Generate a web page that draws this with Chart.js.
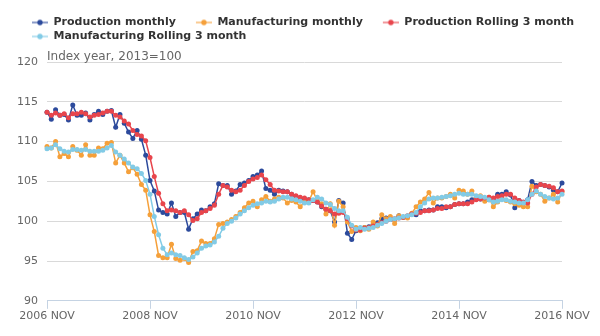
<!DOCTYPE html>
<html lang="en">
<head>
    <meta charset="UTF-8">
    <title>Production and Manufacturing Index</title>
    <script src="https://cdn.jsdelivr.net/npm/chart.js"></script>
    <style>
        body {
            margin: 0;
            background: #fff;
        }
    </style>
</head>
<body>
    <canvas id="indexChart" width="600" height="336"></canvas>

    <script>
        // month labels, 2006 NOV .. 2016 NOV
        const monthNames = ['JAN', 'FEB', 'MAR', 'APR', 'MAY', 'JUN', 'JUL', 'AUG', 'SEP', 'OCT', 'NOV', 'DEC'];
        const startYear = 2006, startMonth = 10, monthCount = 121;
        const categories = [];
        for (let i = 0; i < monthCount; i++) {
            let m = startMonth + i;
            categories.push((startYear + Math.floor(m / 12)) + ' ' + monthNames[m % 12]);
        }
        const tickLabels = ['2006 NOV', '2008 NOV', '2010 NOV', '2012 NOV', '2014 NOV', '2016 NOV'];

        const prodMonthly = [
            113.7, 112.8, 114.0, 113.3, 113.4, 112.7, 114.6, 113.3, 113.3, 113.6, 112.7, 113.4,
            113.8, 113.4, 113.8, 113.9, 111.8, 113.4, 112.3, 111.2, 110.4, 111.4, 110.3, 108.3,
            105.1, 103.8, 101.4, 101.1, 100.9, 102.3, 100.6, 101.1, 101.1, 99.0, 100.3, 100.9,
            101.4, 101.3, 101.8, 102.2, 104.7, 104.5, 104.5, 103.4, 103.8, 104.6, 104.8, 105.1,
            105.6, 105.8, 106.3, 104.1, 103.9, 103.4, 103.9, 103.8, 103.7, 103.4, 103.1, 102.9,
            102.8, 102.7, 102.6, 102.4, 101.8, 101.5, 101.3, 99.9, 102.6, 102.3, 98.5, 97.7,
            98.8, 99.1, 99.2, 99.3, 99.6, 99.8, 100.3, 100.4, 100.2, 100.2, 100.7, 100.5,
            100.6, 100.9, 100.8, 101.3, 101.3, 101.4, 101.4, 101.8, 101.8, 101.7, 101.8, 102.1,
            102.2, 102.2, 102.4, 102.7, 102.9, 102.8, 102.9, 102.7, 102.8, 103.4, 103.4, 103.7,
            103.3, 101.7, 102.6, 102.3, 102.7, 105.0, 104.5, 104.6, 104.5, 104.3, 103.9, 103.7,
            104.8
        ];
        const mfgMonthly = [
            109.4, 109.2, 110.0, 108.1, 108.5, 108.1, 109.4, 108.9, 108.3, 109.6, 108.3, 108.3,
            109.2, 109.1, 109.8, 109.9, 107.3, 108.3, 107.3, 106.2, 106.7, 105.9, 104.6, 103.9,
            100.8, 98.7, 95.7, 95.4, 95.4, 97.1, 95.3, 95.1, 95.3, 94.8, 96.2, 96.3,
            97.5, 97.2, 97.2, 97.8, 99.6, 99.7, 99.9, 100.2, 100.6, 101.1, 101.7, 102.3,
            102.5, 101.8, 102.7, 103.1, 102.5, 102.8, 103.0, 102.9, 102.3, 102.6, 102.4, 101.8,
            102.4, 102.5, 103.7, 102.6, 102.2, 100.9, 102.2, 99.5, 102.5, 101.8, 99.9, 98.7,
            99.2, 98.8, 99.2, 99.0, 99.9, 99.4, 100.8, 100.3, 100.6, 99.7, 100.7, 100.5,
            100.4, 101.0, 101.8, 102.4, 102.8, 103.6, 102.3, 102.9, 102.9, 103.1, 103.4, 102.9,
            103.9, 103.8, 103.4, 103.8, 102.9, 103.2, 102.5, 103.0, 101.8, 102.4, 102.9, 102.6,
            102.4, 102.2, 102.0, 101.8, 101.8, 104.4, 103.7, 103.4, 102.5, 102.9, 103.4, 102.4,
            103.7
        ];
        const prodRolling = [
            113.7, 113.3, 113.6, 113.3, 113.5, 113.0, 113.5, 113.5, 113.7, 113.5, 113.1, 113.3,
            113.4, 113.6, 113.8, 113.8, 113.3, 113.1, 112.6, 112.2, 111.4, 110.9, 110.7, 110.1,
            108.0, 105.6, 103.5, 102.2, 101.3, 101.4, 101.3, 101.1, 101.3, 100.8, 100.1, 100.3,
            101.1, 101.3, 101.6, 102.0, 103.4, 104.5, 104.3, 103.9, 103.7, 103.9, 104.5, 105.0,
            105.3, 105.5, 105.8, 105.2, 104.6, 103.9, 103.8, 103.7, 103.7, 103.4, 103.2, 103.0,
            102.9, 102.7, 102.6, 102.4, 101.9, 101.5, 101.3, 100.9, 101.0, 101.1, 100.3, 99.4,
            98.9, 98.9, 99.1, 99.2, 99.4, 99.6, 99.8, 100.0, 100.2, 100.3, 100.4, 100.5,
            100.7, 100.9, 101.0, 101.1, 101.3, 101.3, 101.4, 101.6, 101.6, 101.8, 101.8, 102.1,
            102.2, 102.2, 102.2, 102.4, 102.7, 102.8, 102.9, 103.0, 102.9, 103.1, 103.2, 103.4,
            103.4, 102.9, 102.6, 102.4, 102.3, 103.4, 104.3, 104.6, 104.5, 104.4, 104.2, 103.7,
            103.8
        ];
        const mfgRolling = [
            109.1, 109.2, 109.6, 109.1, 108.8, 108.7, 109.0, 109.0, 108.9, 109.0, 108.8, 108.8,
            108.8, 108.9, 109.2, 109.5, 108.7, 108.3, 107.8, 107.3, 106.8, 106.6, 106.0, 105.1,
            103.4, 100.6, 98.3, 96.6, 95.8, 96.0, 95.8, 95.7, 95.4, 95.2, 95.5, 96.0,
            96.6, 96.9, 97.0, 97.4, 98.1, 99.1, 99.7, 100.0, 100.4, 100.9, 101.3, 101.7,
            102.0, 102.2, 102.3, 102.5, 102.4, 102.5, 102.8, 103.0, 103.0, 102.8, 102.7, 102.5,
            102.3, 102.3, 102.7, 103.0, 102.8, 102.3, 102.1, 101.6, 101.3, 101.3, 100.5, 99.5,
            99.0, 99.2, 99.0, 99.1, 99.2, 99.5, 99.7, 100.0, 100.2, 100.3, 100.4, 100.6,
            100.7, 100.8, 101.1, 101.8, 102.3, 102.8, 102.9, 102.9, 103.0, 103.1, 103.2, 103.4,
            103.5, 103.4, 103.4, 103.4, 103.2, 103.1, 103.0, 102.7, 102.4, 102.5, 102.7, 102.7,
            102.5, 102.4, 102.3, 102.3, 102.7, 103.4, 103.8, 103.4, 103.1, 102.9, 102.8, 102.9,
            103.4
        ];

        const seriesNames = ['Production monthly', 'Manufacturing monthly', 'Production Rolling 3 month', 'Manufacturing Rolling 3 month'];
        const seriesColors = ['#2c4a9c', '#f5a03a', '#e8454c', '#82cbe6'];
        const seriesData = [prodMonthly, mfgMonthly, prodRolling, mfgRolling];

        const fontFamily = "'DejaVu Sans', sans-serif";

        // legend marker: faded line with a solid dot, drawn at the right of a wider box
        function makeMarker(color) {
            let c = document.createElement('canvas');
            c.width = 33;
            c.height = 10;
            let g = c.getContext('2d');
            g.globalAlpha = 0.55;
            g.strokeStyle = color;
            g.lineWidth = 2;
            g.beginPath();
            g.moveTo(17, 5);
            g.lineTo(33, 5);
            g.stroke();
            g.globalAlpha = 1;
            g.fillStyle = color;
            g.beginPath();
            g.arc(25, 5, 2.7, 0, Math.PI * 2);
            g.fill();
            return c;
        }
        const markers = seriesColors.map(makeMarker);

        let datasets = seriesNames.map((name, i) => ({
            label: name,
            data: seriesData[i],
            borderColor: seriesColors[i],
            backgroundColor: seriesColors[i],
            borderWidth: 1.5,
            pointRadius: 2.5,
            pointBorderWidth: 0,
            pointHoverRadius: 3,
            tension: 0,
            order: 4 - i
        }));

        let ctx = document.getElementById('indexChart').getContext('2d');
        let chart = new Chart(ctx, {
            type: 'line',
            data: {
                labels: categories,
                datasets: datasets
            },
            options: {
                responsive: false,
                animation: false,
                layout: {
                    padding: { top: 14, left: 12, right: 0, bottom: 12 }
                },
                plugins: {
                    legend: {
                        position: 'top',
                        align: 'start',
                        labels: {
                            usePointStyle: true,
                            pointStyleWidth: 33,
                            padding: 3,
                            color: '#333',
                            font: { family: fontFamily, size: 11, weight: 'bold' },
                            sort: (a, b) => a.datasetIndex - b.datasetIndex,
                            generateLabels: function (c) {
                                let items = Chart.defaults.plugins.legend.labels.generateLabels(c);
                                items.forEach(it => { it.pointStyle = markers[it.datasetIndex]; });
                                return items;
                            }
                        }
                    },
                    subtitle: {
                        display: true,
                        text: 'Index year, 2013=100',
                        align: 'start',
                        fullSize: false,
                        weight: 500,
                        color: '#666',
                        font: { family: fontFamily, size: 12, weight: 'normal', lineHeight: 1 },
                        padding: { top: -1, bottom: -1 }
                    },
                    tooltip: { enabled: false }
                },
                scales: {
                    x: {
                        grid: {
                            drawOnChartArea: false,
                            drawTicks: true,
                            tickLength: 8,
                            color: '#c5d3e3'
                        },
                        border: { color: '#c5d3e3' },
                        ticks: {
                            autoSkip: false,
                            maxRotation: 0,
                            padding: 1,
                            color: '#666',
                            font: { family: fontFamily, size: 11 },
                            callback: function (v, i) {
                                let lab = categories[i];
                                return tickLabels.includes(lab) ? lab : null;
                            }
                        }
                    },
                    y: {
                        min: 90,
                        max: 120,
                        grid: { color: '#d9d9d9', drawTicks: false },
                        border: { display: false },
                        ticks: {
                            stepSize: 5,
                            padding: 9,
                            color: '#666',
                            font: { family: fontFamily, size: 11 }
                        },
                        afterFit: function (s) { s.width = 35; }
                    },
                    yRight: {
                        position: 'right',
                        grid: { display: false },
                        border: { display: false },
                        ticks: { display: false },
                        afterFit: function (s) { s.width = 38; }
                    }
                }
            }
        });
    </script>
</body>
</html>
